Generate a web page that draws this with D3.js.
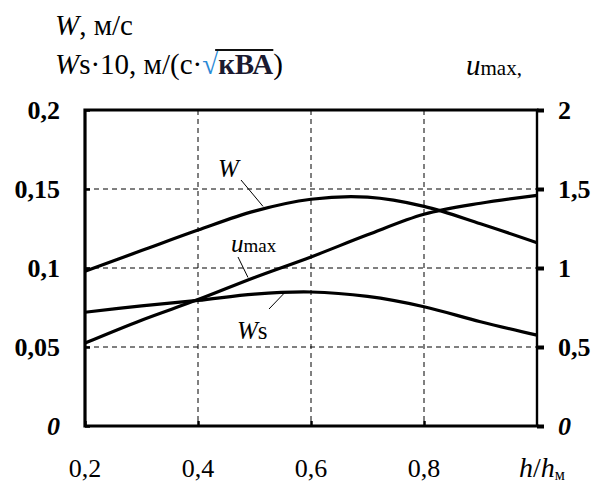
<!DOCTYPE html>
<html>
<head>
<meta charset="utf-8">
<script src="https://cdn.jsdelivr.net/npm/d3@7"></script>
<style>
  html, body { margin: 0; padding: 0; background: #fff; }
  svg text { font-family: "Liberation Serif", "DejaVu Serif", serif; }
</style>
</head>
<body>
<svg id="chart" width="595" height="482" font-family="Liberation Serif, DejaVu Serif, serif"></svg>
<script>
// ---- data ----
const xValues   = [0.2, 0.3, 0.4, 0.5, 0.6, 0.7, 0.8, 0.9, 1.0];
const wValues   = [0.098, 0.111, 0.124, 0.136, 0.1435, 0.1448, 0.139, 0.128, 0.116];
const wsValues  = [0.072, 0.076, 0.0795, 0.0835, 0.0848, 0.082, 0.0755, 0.066, 0.0575];
const umaxValues= [0.525, 0.67, 0.80, 0.94, 1.07, 1.21, 1.34, 1.41, 1.46];
const xTicks    = [0.2, 0.4, 0.6, 0.8];
const xTickLabels = ["0,2", "0,4", "0,6", "0,8"];
const leftTicks = [0, 0.05, 0.1, 0.15, 0.2];
const leftTickLabels = ["0", "0,05", "0,1", "0,15", "0,2"];
const rightTicks = [0, 0.5, 1, 1.5, 2];
const rightTickLabels = ["0", "0,5", "1", "1,5", "2"];

// ---- layout ----
const FONT = "Liberation Serif, DejaVu Serif, serif";
const svg = d3.select("#chart");
const L = 85, R = 537, T = 110, B = 426;
const x = d3.scaleLinear().domain([0.2, 1.0]).range([L, R]);
const yL = d3.scaleLinear().domain([0, 0.2]).range([B, T]);
const yR = d3.scaleLinear().domain([0, 2]).range([B, T]);

// grid
const grid = svg.append("g").attr("stroke", "#000").attr("stroke-width", 1)
  .attr("stroke-dasharray", "5,4").attr("fill", "none");
[0.4, 0.6, 0.8].forEach(v => grid.append("line")
  .attr("x1", x(v)).attr("x2", x(v)).attr("y1", T).attr("y2", B));
[0.05, 0.1, 0.15].forEach(v => grid.append("line")
  .attr("x1", L).attr("x2", R).attr("y1", yL(v)).attr("y2", yL(v)));

// curves
const line = (ys, yScale) => d3.line()
  .x((d, i) => x(xValues[i])).y(d => yScale(d))
  .curve(d3.curveCatmullRom.alpha(0.5))(ys);
const curves = svg.append("g").attr("fill", "none").attr("stroke", "#000")
  .attr("stroke-width", 3.2).attr("stroke-linejoin", "round");
curves.append("path").attr("d", line(wValues, yL));
curves.append("path").attr("d", line(wsValues, yL));
curves.append("path").attr("d", line(umaxValues, yR));

// axes
const axL = svg.append("g").attr("transform", `translate(${L},0)`)
  .call(d3.axisLeft(yL).tickValues(leftTicks).tickSize(-5).tickFormat(""));
const axR = svg.append("g").attr("transform", `translate(${R},0)`)
  .call(d3.axisRight(yR).tickValues(rightTicks).tickSize(7).tickFormat(""));
const axB = svg.append("g").attr("transform", `translate(0,${B})`)
  .call(d3.axisBottom(x).tickValues(xTicks).tickSize(-5).tickFormat(""));
[axL, axR, axB].forEach(a => { a.select(".domain").remove(); });
axL.selectAll(".tick line").attr("stroke-width", 2.5);
axR.selectAll(".tick line").attr("stroke-width", 4);
axB.selectAll(".tick line").attr("stroke-width", 2.5);

// frame
const frame = svg.append("g").attr("stroke", "#000").attr("fill", "none");
frame.append("path").attr("stroke-width", 3.2)
  .attr("d", `M${R},${T}H${L}V${B}H${R}`).attr("stroke-linecap", "square");
frame.append("line").attr("stroke-width", 2.4)
  .attr("x1", R).attr("x2", R).attr("y1", T).attr("y2", B);

// tick labels
const fs = 26;
svg.append("g").selectAll("text").data(leftTicks).join("text")
  .attr("font-family", FONT)
  .attr("x", 60).attr("y", d => yL(d)).attr("dy", "0.35em")
  .attr("text-anchor", "end").attr("font-size", fs).attr("font-weight", "bold")
  .attr("font-style", (d, i) => leftTickLabels[i] === "0" ? "italic" : "normal")
  .text((d, i) => leftTickLabels[i]);
svg.append("g").selectAll("text").data(rightTicks).join("text")
  .attr("font-family", FONT)
  .attr("x", 558).attr("y", d => yR(d)).attr("dy", "0.35em")
  .attr("text-anchor", "start").attr("font-size", fs).attr("font-weight", "bold")
  .attr("font-style", (d, i) => rightTickLabels[i] === "0" ? "italic" : "normal")
  .text((d, i) => rightTickLabels[i]);
svg.append("g").selectAll("text").data(xTicks).join("text")
  .attr("font-family", FONT)
  .attr("x", d => x(d)).attr("y", 477)
  .attr("text-anchor", "middle").attr("font-size", fs)
  .text((d, i) => xTickLabels[i]);

// x axis title h/hм
const xt = svg.append("text").attr("font-family", FONT).attr("x", 519).attr("y", 477).attr("font-size", 28);
xt.append("tspan").attr("font-style", "italic").text("h");
xt.append("tspan").text("/");
xt.append("tspan").attr("font-style", "italic").text("h");
xt.append("tspan").attr("font-size", 16).attr("dy", 3).text("м");

// titles
const t1 = svg.append("text").attr("font-family", FONT).attr("x", 55).attr("y", 35).attr("font-size", 29);
t1.append("tspan").attr("font-style", "italic").text("W");
t1.append("tspan").text(", м/с");

const t2 = svg.append("text").attr("font-family", FONT).attr("x", 55).attr("y", 74).attr("font-size", 29);
t2.append("tspan").attr("font-style", "italic").text("W");
t2.append("tspan").text("s·10, м/(с·");
t2.append("tspan").attr("fill", "#2a8ad6").text("√");
const kva = t2.append("tspan").attr("font-weight", "bold").attr("fill", "#1a1a30").text("кВА");
t2.append("tspan").text(")");
// overline above кВА
try {
  const kvaNode = kva.node();
  const n = kvaNode.getNumberOfChars();
  const s = kvaNode.getStartPositionOfChar(0), e = kvaNode.getEndPositionOfChar(n - 1);
  svg.append("line").attr("x1", s.x - 3).attr("x2", e.x).attr("y1", 50).attr("y2", 50)
    .attr("stroke", "#111").attr("stroke-width", 2);
} catch (err) {}

const t3 = svg.append("text").attr("font-family", FONT).attr("x", 466).attr("y", 75).attr("font-size", 29);
t3.append("tspan").attr("font-style", "italic").text("u");
t3.append("tspan").attr("font-size", 21).text("max,");

// curve labels and leaders
const lab = svg.append("g").attr("font-size", 25);
const wl = lab.append("text").attr("font-family", FONT).attr("x", 218).attr("y", 177).attr("font-style", "italic").text("W");
const ul = lab.append("text").attr("font-family", FONT).attr("x", 231).attr("y", 252);
ul.append("tspan").attr("font-style", "italic").text("u");
ul.append("tspan").attr("font-size", 19).text("max");
const wsl = lab.append("text").attr("font-family", FONT).attr("x", 237).attr("y", 339);
wsl.append("tspan").attr("font-style", "italic").text("W");
wsl.append("tspan").text("s");

const leaders = svg.append("g").attr("stroke", "#000").attr("stroke-width", 1);
leaders.append("line").attr("x1", 241).attr("y1", 180).attr("x2", 263).attr("y2", yL(0.139));
leaders.append("line").attr("x1", 238).attr("y1", 257).attr("x2", 248).attr("y2", yR(0.94));
leaders.append("line").attr("x1", 269).attr("y1", 309).attr("x2", 285).attr("y2", yL(0.0846));
</script>
</body>
</html>
